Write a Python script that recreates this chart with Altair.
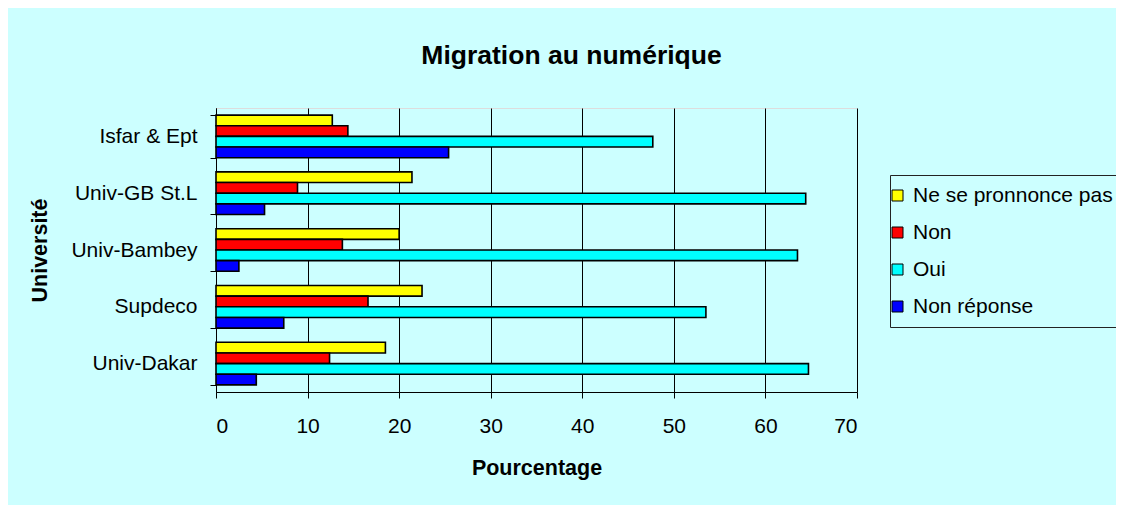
import altair as alt
import pandas as pd

universities = ["Isfar & Ept", "Univ-GB St.L", "Univ-Bambey", "Supdeco", "Univ-Dakar"]
series = ["Ne se pronnonce pas", "Non", "Oui", "Non réponse"]
colors = ["#FFFF00", "#FF0000", "#00FFFF", "#0000FF"]
ne_se_prononce_pas = [12.7, 21.4, 20.0, 22.5, 18.5]
non = [14.4, 8.9, 13.8, 16.6, 12.4]
oui = [47.7, 64.4, 63.5, 53.5, 64.7]
non_reponse = [25.4, 5.3, 2.5, 7.4, 4.4]
x_ticks = [0, 10, 20, 30, 40, 50, 60, 70]

rows = []
for vals, s in zip([ne_se_prononce_pas, non, oui, non_reponse], series):
    for u, v in zip(universities, vals):
        rows.append({"Université": u, "Réponse": s, "Pourcentage": v})
df = pd.DataFrame(rows)

FONT = "Liberation Sans"
BG = "#CCFFFF"

chart = alt.Chart(df).mark_bar(stroke="black", strokeWidth=1.6).encode(
    y=alt.Y("Université:N", sort=universities,
            scale=alt.Scale(paddingInner=0.25, paddingOuter=0.125),
            axis=alt.Axis(title="Université", tickBand="extent", tickSize=6,
                          tickColor="black", domainColor="black",
                          labelFontSize=21, labelColor="black", labelPadding=13,
                          titleFontSize=21.5, titleFontWeight="bold", titleColor="black",
                          titlePadding=19, grid=False)),
    yOffset=alt.YOffset("Réponse:N", sort=series, scale=alt.Scale(paddingInner=0, paddingOuter=0)),
    x=alt.X("Pourcentage:Q", scale=alt.Scale(domain=[0, 70], nice=False),
            axis=alt.Axis(title="Pourcentage", values=x_ticks, tickSize=6,
                          tickColor="black", domainColor="black",
                          labelFontSize=21, labelColor="black", labelPadding=17,
                          titleFontSize=21.5, titleFontWeight="bold", titleColor="black",
                          titlePadding=21, grid=True, gridColor="black", gridWidth=1,
                          gridOpacity=1)),
    color=alt.Color("Réponse:N", sort=series,
                    scale=alt.Scale(domain=series, range=colors),
                    legend=alt.Legend(title=None, orient="none", legendX=674, legendY=67,
                                      symbolType="square", symbolSize=121,
                                      symbolStrokeColor="black", symbolStrokeWidth=1,
                                      symbolOpacity=1, symbolOffset=-13,
                                      labelFontSize=21, labelColor="black", labelOffset=5,
                                      labelLimit=400,
                                      rowPadding=15, padding=10,
                                      strokeColor="#222222", fillColor=BG)),
).properties(
    width=641,
    height=284,
    title=alt.TitleParams("Migration au numérique", fontSize=26.5, fontWeight="bold",
                          color="black", frame="group", anchor="middle", dx=35, offset=28),
    background=BG,
    padding={"left": 208, "top": 100, "right": 259, "bottom": 113},
    autosize=alt.AutoSizeParams(type="none"),
).configure_view(
    fill="#C0C0C0", stroke="#808080", strokeWidth=1.5
).configure(font=FONT)

chart.save("out.html", embed_options={"renderer": "svg", "actions": False})
